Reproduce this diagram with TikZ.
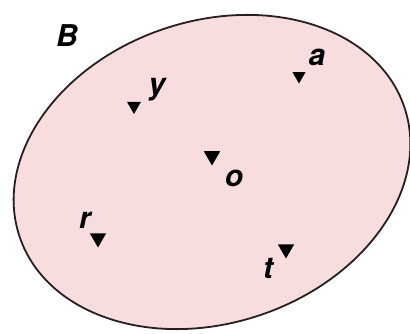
\documentclass[tikz,border=0pt]{standalone}
\usepackage{fontspec}
\setmainfont{TeX Gyre Heros}
\usetikzlibrary{shapes.geometric}
\definecolor{setpink}{RGB}{248,221,222}
\definecolor{outline}{RGB}{40,30,32}
\begin{document}
\begin{tikzpicture}[x=1pt,y=-1pt,
  elem/.style={regular polygon, regular polygon sides=3, shape border rotate=180,
    fill=black, inner sep=0pt, minimum size=#1},
  lbl/.style={inner sep=0pt, font=\fontsize{30}{30}\selectfont\bfseries\itshape}]
\useasboundingbox (0,0) rectangle (410,334);
\fill[white] (0,0) rectangle (410,334);
\draw[line width=1.8pt, draw=outline, fill=setpink, rotate around={18.6:(212,172)}]
  (212,172) ellipse [x radius=203, y radius=151];
\node[lbl] (B) at (67,36) {B};
\node[elem=16pt] (ty) at (134,106) {};
\node[lbl] (ly) at (157,90) {y};
\node[elem=15pt] (ta) at (299,76) {};
\node[lbl] (la) at (317,57) {a};
\node[elem=19pt] (to) at (212,156) {};
\node[lbl] (lo) at (234,178) {o};
\node[elem=19pt] (tr) at (98,238) {};
\node[lbl] (lr) at (85,220) {r};
\node[elem=19pt] (tt) at (286,249) {};
\node[lbl] (lt) at (268,268) {t};
\end{tikzpicture}
\end{document}
